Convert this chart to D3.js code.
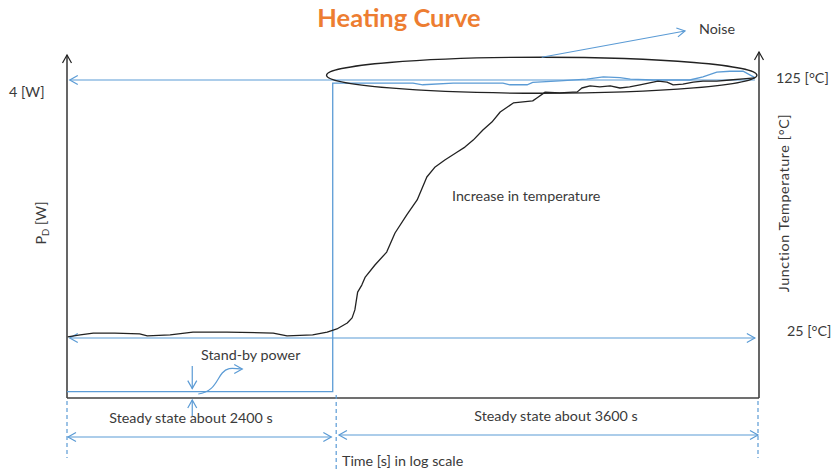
<!DOCTYPE html>
<html><head><meta charset="utf-8">
<script src="https://cdn.jsdelivr.net/npm/d3@7"></script>
<style>
body{margin:0;background:#fff}
text{font-family:Lato,"Open Sans",sans-serif;fill:#3a3a3a;font-size:14.3px}
</style>
</head><body>
<svg id="c" width="832" height="471"></svg>
<script>
// ---- data (normalised time 0..100, log-scale axis) ----
const tempTime = [0.1,1.9,3.8,6.9,10.5,11.6,14.9,18.2,23.1,29.8,31.8,35.5,37.6,39.0,40.5,41.2,41.6,42.0,42.6,43.1,44.5,46.2,47.4,49.1,50.6,52.0,53.2,54.6,56.4,57.5,58.7,60.1,61.4,62.6,64.5,67.3,67.9,69.1,71.2,73.1,73.7,74.4,75.6,77.0,78.5,79.9,81.3,82.8,85.4,86.7,87.6,89.0,90.5,91.9,93.9,95.8,97.7,99.4];
const tempC    = [25.4,26.2,26.9,26.9,26.6,25.8,26.2,27.3,27.3,26.9,25.8,26.2,27.3,28.5,30.8,32.8,35.9,42.8,45.5,48.6,53.3,58.3,65.7,72.7,78.5,87.4,91.3,94.0,97.1,99.0,101.7,105.6,108.7,112.6,116.1,116.9,118.0,120.3,120.0,120.3,120.3,121.9,122.7,122.3,122.7,121.9,122.3,123.1,124.6,124.2,123.1,123.4,124.2,124.6,124.6,125.0,125.4,125.8];
const powerTime = [0,38.4,38.4,50.0,51.4,55.8,63.0,64.0,66.5,67.3,71.2,75.1,77.5,79.9,81.4,84.7,90.0,91.9,93.9,95.8,97.7,99.4];
const powerW    = [0.08,0.08,3.96,3.96,3.94,3.96,3.96,3.94,3.94,3.97,3.99,4.01,4.04,4.03,4.01,4.0,4.0,4.04,4.10,4.11,4.11,4.03];
const powerLevels = [4];      // W
const tempLevels = [25, 125]; // °C
const phaseBounds = [0, 38.9, 100];
const phaseLabels = ["Steady state about 2400 s", "Steady state about 3600 s"];

const svg = d3.select("#c");
const x = d3.scaleLinear().domain([0,100]).range([67,759]);
const yT = d3.scaleLinear().domain([25,125]).range([338,80]);
const yP = d3.scaleLinear().domain([0,4]).range([398,80]);
const BLUE = "#5B9BD5", DARK = "#404040";

// markers
const defs = svg.append("defs");
function marker(id, color){
  defs.append("marker").attr("id",id).attr("viewBox","-1 -6 12 12")
    .attr("refX",9).attr("refY",0).attr("markerWidth",12).attr("markerHeight",12)
    .attr("markerUnits","userSpaceOnUse").attr("orient","auto-start-reverse")
    .append("path").attr("d","M1,-4.5L9,0L1,4.5").attr("fill","none")
    .attr("stroke",color).attr("stroke-width",1.2);
}
marker("ab", BLUE); marker("ak", "#222");

// title
svg.append("text").attr("x",399).attr("y",27).attr("text-anchor","middle")
  .style("font-size","25.5px").style("font-weight","bold").style("fill","#ED7D31").text("Heating Curve");

// axes
const y0 = yP(0);
svg.append("line").attr("x1",x(0)).attr("y1",y0).attr("x2",x(0)).attr("y2",55)
  .attr("stroke",DARK).attr("stroke-width",1.6).attr("marker-end","url(#ak)");
svg.append("line").attr("x1",x(100)).attr("y1",y0).attr("x2",x(100)).attr("y2",52)
  .attr("stroke",DARK).attr("stroke-width",1.6).attr("marker-end","url(#ak)");
svg.append("line").attr("x1",x(0)).attr("y1",y0).attr("x2",x(100)).attr("y2",y0)
  .attr("stroke",DARK).attr("stroke-width",1.6);

// reference level arrows
powerLevels.forEach(p=>{
  svg.append("line").attr("x1",x(99.4)).attr("x2",x(0.4)).attr("y1",yP(p)).attr("y2",yP(p))
    .attr("stroke",BLUE).attr("stroke-width",1.2).attr("marker-end","url(#ab)");
});
svg.append("line").attr("x1",x(0.4)).attr("x2",x(99.4)).attr("y1",yT(tempLevels[0])).attr("y2",yT(tempLevels[0]))
  .attr("stroke",BLUE).attr("stroke-width",1.2).attr("marker-end","url(#ab)").attr("marker-start","url(#ab)");

// power line
const pts = powerTime.map((t,i)=>[t,powerW[i]]);
svg.append("path").datum(pts).attr("d",d3.line().x(d=>x(d[0])).y(d=>yP(d[1])))
  .attr("fill","none").attr("stroke",BLUE).attr("stroke-width",1.3);

// temperature curve
const tp = tempTime.map((t,i)=>[t,tempC[i]]);
svg.append("path").datum(tp).attr("d",d3.line().x(d=>x(d[0])).y(d=>yT(d[1])))
  .attr("fill","none").attr("stroke","#222").attr("stroke-width",1.3).attr("stroke-linejoin","round");

// noise ellipse + arrow
const ecx = x(68.6), ecy = yP(4.06);
svg.append("ellipse").attr("cx",ecx).attr("cy",ecy).attr("rx",x(31.1)-x(0)).attr("ry",18)
  .attr("fill","none").attr("stroke","#222").attr("stroke-width",1.3);
svg.append("line").attr("x1",ecx).attr("y1",ecy-18).attr("x2",685).attr("y2",31)
  .attr("stroke",BLUE).attr("stroke-width",1.2).attr("marker-end","url(#ab)");
svg.append("text").attr("x",699).attr("y",34).text("Noise");

// axis labels
svg.append("text").attr("x",9).attr("y",97).text("4 [W]");
svg.append("text").attr("x",776).attr("y",83).text("125 [°C]");
svg.append("text").attr("x",787).attr("y",336).text("25 [°C]");
const pd = svg.append("text").attr("transform","translate(46,223) rotate(-90)").attr("text-anchor","middle");
pd.append("tspan").text("P");
pd.append("tspan").attr("dy",3).style("font-size","9.5px").text("D");
pd.append("tspan").attr("dy",-3).text(" [W]");
svg.append("text").attr("transform","translate(789,203) rotate(-90)").attr("text-anchor","middle")
  .style("letter-spacing","0.6px").text("Junction Temperature [°C]");
svg.append("text").attr("x",452).attr("y",201).text("Increase in temperature");

// stand-by annotation
const sx = x(18.1);
svg.append("text").attr("x",201).attr("y",360).text("Stand-by power");
svg.append("line").attr("x1",sx).attr("x2",sx).attr("y1",366).attr("y2",yP(0.08)-3)
  .attr("stroke",BLUE).attr("stroke-width",1.2).attr("marker-end","url(#ab)");
svg.append("line").attr("x1",sx).attr("x2",sx).attr("y1",y0+18).attr("y2",y0+2)
  .attr("stroke",BLUE).attr("stroke-width",1.2).attr("marker-end","url(#ab)");
svg.append("path").attr("d",`M${sx+6},${y0-4} C${sx+22},${y0-6} ${sx+24},${y0-18} ${sx+30},${y0-25} S${sx+42},${y0-29} ${sx+50},${y0-29}`)
  .attr("fill","none").attr("stroke",BLUE).attr("stroke-width",1.2).attr("marker-end","url(#ab)");

// phase dimensions
phaseBounds.forEach((t,i)=>{
  svg.append("line").attr("x1",x(t)-(i==2?1:0)).attr("x2",x(t)-(i==2?1:0))
    .attr("y1",y0+(i==1?-3:3)).attr("y2",i==1?471:y0+60)
    .attr("stroke",BLUE).attr("stroke-width",1.2).attr("stroke-dasharray","4,3");
});
svg.append("line").attr("x1",x(0)+1).attr("x2",x(38.2)).attr("y1",437).attr("y2",437)
  .attr("stroke",BLUE).attr("stroke-width",1.2).attr("marker-end","url(#ab)").attr("marker-start","url(#ab)");
svg.append("line").attr("x1",x(39.3)).attr("x2",x(100)-1).attr("y1",435).attr("y2",435)
  .attr("stroke",BLUE).attr("stroke-width",1.2).attr("marker-end","url(#ab)").attr("marker-start","url(#ab)");
svg.append("text").attr("x",191).attr("y",423).attr("text-anchor","middle").text(phaseLabels[0]);
svg.append("text").attr("x",556).attr("y",421).attr("text-anchor","middle").text(phaseLabels[1]);
svg.append("text").attr("x",342).attr("y",466).text("Time [s] in log scale");
</script>
</body></html>
